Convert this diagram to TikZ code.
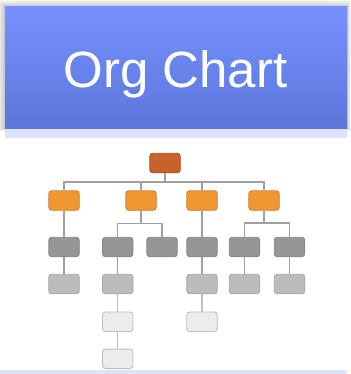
\documentclass[tikz,border=0pt]{standalone}
\usepackage{fontspec}
\setmainfont{Liberation Sans}
\definecolor{hdrtop}{RGB}{118,145,255}
\definecolor{hdrbot}{RGB}{92,118,218}
\definecolor{hdrstrip}{RGB}{222,226,250}
\definecolor{boss}{RGB}{200,98,42}
\definecolor{bossline}{RGB}{170,80,35}
\definecolor{lead}{RGB}{241,151,48}
\definecolor{leadline}{RGB}{200,130,60}
\definecolor{staff}{RGB}{150,150,150}
\definecolor{staffline}{RGB}{135,135,135}
\definecolor{junior}{RGB}{188,188,188}
\definecolor{juniorline}{RGB}{165,165,165}
\definecolor{trainee}{RGB}{236,236,236}
\definecolor{traineeline}{RGB}{190,190,190}
\definecolor{wire}{RGB}{160,160,160}
\definecolor{wirelight}{RGB}{190,190,190}
\tikzset{
  x=1pt, y=-1pt,
  box/.style={rounded corners=3pt, line width=0.9pt, minimum width=30.5pt, minimum height=19.5pt, inner sep=0pt},
  lvlone/.style={box, fill=boss, draw=bossline},
  lvltwo/.style={box, fill=lead, draw=leadline},
  lvlthree/.style={box, fill=staff, draw=staffline},
  lvlfour/.style={box, fill=junior, draw=juniorline},
  lvlfive/.style={box, fill=trainee, draw=traineeline},
  wiring/.style={draw=wire, line width=1.25pt},
  wiringlight/.style={draw=wirelight, line width=1.25pt},
}
\begin{document}
\begin{tikzpicture}
\useasboundingbox (0,0) rectangle (350,374);
\fill[white] (0,0) rectangle (350,374);
% soft shadow round the title banner
\foreach \d in {7,6,5,4,3,2,1}
  \fill[black, opacity=0.03] (5-\d,7-\d) rectangle (347+\d*0.5,129+\d*0.3);
% title banner
\shade[top color=hdrtop, bottom color=hdrbot] (5,7) rectangle (347,129);
\draw[hdrtop!80!white, line width=0.6pt] (5,129) -- (347,129);
\fill[hdrstrip] (5,129.3) rectangle (347,138);
\node[anchor=base, text=white, font=\fontsize{51}{61}\selectfont, inner sep=0pt] (title) at (175.5,88) {Org Chart};
% bottom strip
\fill[hdrstrip] (0,369.5) rectangle (347,374);

% level 1
\node[lvlone] (t) at (165,163) {};
% level 2
\node[lvltwo] (a) at (64,200.5) {};
\node[lvltwo] (b) at (141,200.5) {};
\node[lvltwo] (c) at (202,200.5) {};
\node[lvltwo] (d) at (264,200.5) {};
% level 3
\node[lvlthree] (a1) at (64,247) {};
\node[lvlthree] (b1) at (117.7,247) {};
\node[lvlthree] (b2) at (162,247) {};
\node[lvlthree] (c1) at (202,247) {};
\node[lvlthree] (d1) at (244.5,247) {};
\node[lvlthree] (d2) at (289.5,247) {};
% level 4
\node[lvlfour] (a2) at (64,284) {};
\node[lvlfour] (b3) at (117.7,284) {};
\node[lvlfour] (c2) at (202,284) {};
\node[lvlfour] (d3) at (244.5,284) {};
\node[lvlfour] (d4) at (289.5,284) {};
% levels 5 and 6
\node[lvlfive] (b4) at (117.7,321.7) {};
\node[lvlfive] (c3) at (202,321.7) {};
\node[lvlfive] (b5) at (117.7,358.8) {};

% connectors
\foreach \n in {a,b,c,d}
  \draw[wiring] (t.south) -- ++(0,8.7) -| (\n.north);
\draw[wiring] (a.south) -- (a1.north);
\draw[wiring] (c.south) -- (c1.north);
\foreach \n in {b1,b2}
  \draw[wiring] (b.south) -- ++(0,12.8) -| (\n.north);
\foreach \n in {d1,d2}
  \draw[wiring] (d.south) -- ++(0,12.2) -| (\n.north);
\draw[wiring] (a1.south) -- (a2.north);
\draw[wiring] (b1.south) -- (b3.north);
\draw[wiring] (c1.south) -- (c2.north);
\draw[wiring] (d1.south) -- (d3.north);
\draw[wiring] (d2.south) -- (d4.north);
\draw[wiringlight] (b3.south) -- (b4.north);
\draw[wiringlight] (c2.south) -- (c3.north);
\draw[wiringlight] (b4.south) -- (b5.north);
\end{tikzpicture}
\end{document}
